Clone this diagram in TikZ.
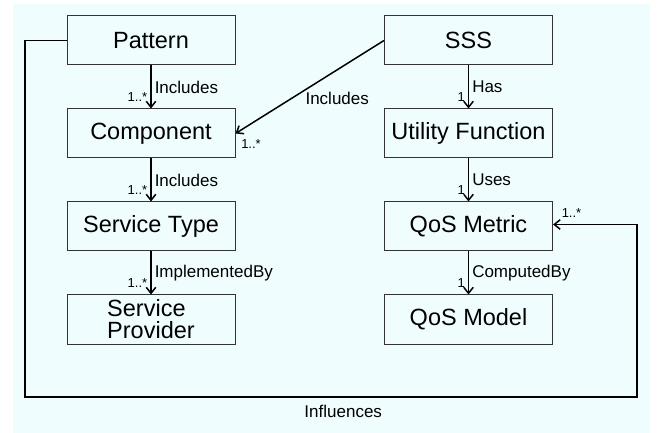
\documentclass[tikz,border=0pt]{standalone}
\usepackage{fontspec}
\setmainfont{Liberation Sans}
\usepackage{xcolor}
\usetikzlibrary{positioning,arrows.meta}
\definecolor{bgcyan}{RGB}{240,253,254}
\tikzset{cbox/.style={rectangle, draw=black!80, line width=1pt, minimum width=168pt, minimum height=49pt, inner sep=0pt, font=\fontsize{23.5}{22}\selectfont}}
\tikzset{rel/.style={font=\fontsize{17}{17}\selectfont, inner sep=3pt}}
\tikzset{mult/.style={font=\fontsize{13}{13}\selectfont, inner sep=3pt}}

\begin{document}
\begin{tikzpicture}[x=1pt,y=1pt,>={Straight Barb[length=6pt,width=9.5pt]},line width=1.5pt]
    \useasboundingbox (0,0) rectangle (657,-433);
    \fill[bgcyan] (13,-4) rectangle (650,-433);

    \node[cbox] (pat) at (151,-40.5) {Pattern};
    \node[cbox,below=43pt of pat] (comp) {Component};
    \node[cbox,below=43pt of comp] (stype) {Service Type};
    \node[cbox,below=43pt of stype,align=left] (sprov) {Service\\Provider};

    \node[cbox] (sss) at (468.5,-40.5) {SSS};
    \node[cbox,below=43pt of sss] (ufun) {Utility Function};
    \node[cbox,below=43pt of ufun] (qm) {QoS Metric};
    \node[cbox,below=43pt of qm] (qmod) {QoS Model};

    \coordinate (loopl) at (25,-397);
    \coordinate (loopr) at (637,-397);

    \draw[->] (pat) -- node[rel,right]{Includes} node[mult,pos=0.74,left]{1..*} (comp);
    \draw[->] (comp) -- node[rel,right]{Includes} node[mult,pos=0.74,left]{1..*} (stype);
    \draw[->] (stype) -- node[rel,right]{ImplementedBy} node[mult,pos=0.74,left]{1..*} (sprov);

    \draw[->] (sss) -- node[rel,right]{Has} node[mult,pos=0.74,left]{1} (ufun);
    \draw[->] (ufun) -- node[rel,right]{Uses} node[mult,pos=0.74,left]{1} (qm);
    \draw[->] (qm) -- node[rel,right]{ComputedBy} node[mult,pos=0.74,left]{1} (qmod);

    \draw[->] (sss.west) -- node[rel,pos=0.54,anchor=north west,inner sep=1pt]{Includes} (comp.east)
        node[mult,anchor=north west,xshift=2pt,yshift=-2pt]{1..*};

    \draw[->] (pat.west) -| (loopl) -- node[rel,pos=0.52,below=4pt]{Influences} (loopr) |- ([yshift=2pt]qm.east);
    \node[mult,above right=5pt and 5pt of qm.east] (qmmult) {1..*};
\end{tikzpicture}
\end{document}
